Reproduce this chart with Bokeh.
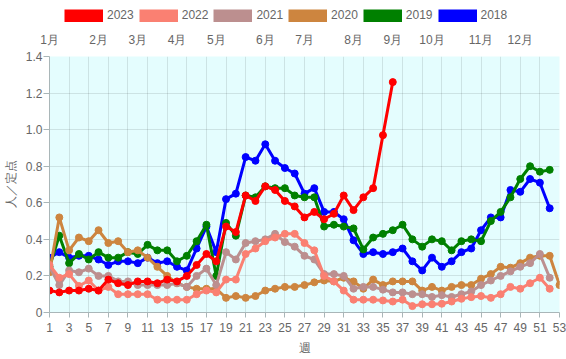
from bokeh.plotting import figure
from bokeh.layouts import column
from bokeh.models import Range1d, FixedTicker, LinearAxis, Legend, LegendItem, ColumnDataSource
from bokeh.embed import file_html
from bokeh.resources import INLINE

weeks = list(range(1, 54))

y2023 = [0.12, 0.11, 0.12, 0.12, 0.13, 0.12, 0.18, 0.16, 0.15, 0.17, 0.17, 0.16, 0.18, 0.17, 0.20,
         0.26, 0.32, 0.28, 0.47, 0.44, 0.64, 0.61, 0.69, 0.67, 0.61, 0.58, 0.52, 0.55, 0.51, 0.54,
         0.64, 0.56, 0.63, 0.68, 0.97, 1.26]
y2022 = [0.26, 0.19, 0.21, 0.145, 0.175, 0.12, 0.14, 0.10, 0.10, 0.10, 0.10, 0.07, 0.07, 0.07, 0.07,
         0.10, 0.12, 0.11, 0.18, 0.18, 0.32, 0.35, 0.39, 0.41, 0.43, 0.43, 0.38, 0.34, 0.20, 0.17,
         0.12, 0.07, 0.07, 0.07, 0.066, 0.06, 0.07, 0.035, 0.045, 0.045, 0.048, 0.06, 0.075, 0.084,
         0.09, 0.08, 0.10, 0.14, 0.13, 0.16, 0.19, 0.13]
y2021 = [0.25, 0.15, 0.23, 0.22, 0.24, 0.20, 0.20, 0.17, 0.17, 0.15, 0.15, 0.15, 0.15, 0.16, 0.14,
         0.20, 0.24, 0.15, 0.33, 0.29, 0.38, 0.39, 0.40, 0.43, 0.385, 0.36, 0.31, 0.29, 0.21, 0.21,
         0.20, 0.13, 0.14, 0.14, 0.125, 0.11, 0.11, 0.10, 0.10, 0.085, 0.095, 0.085, 0.10, 0.115,
         0.15, 0.175, 0.20, 0.225, 0.25, 0.27, 0.32, 0.19]
y2020 = [0.22, 0.52, 0.34, 0.41, 0.39, 0.45, 0.38, 0.39, 0.33, 0.34, 0.30, 0.25, 0.20, 0.16, 0.14,
         0.13, 0.13, 0.13, 0.08, 0.09, 0.08, 0.09, 0.12, 0.13, 0.14, 0.14, 0.15, 0.165, 0.175, 0.17,
         0.19, 0.17, 0.13, 0.18, 0.15, 0.17, 0.17, 0.17, 0.12, 0.14, 0.12, 0.14, 0.15, 0.15, 0.185,
         0.21, 0.25, 0.245, 0.27, 0.30, 0.31, 0.31, 0.15]
y2019 = [0.25, 0.42, 0.27, 0.32, 0.29, 0.33, 0.30, 0.30, 0.33, 0.32, 0.37, 0.34, 0.34, 0.28, 0.31,
         0.39, 0.48, 0.20, 0.49, 0.42, 0.64, 0.63, 0.69, 0.68, 0.68, 0.64, 0.63, 0.63, 0.47, 0.48,
         0.47, 0.46, 0.345, 0.41, 0.43, 0.45, 0.48, 0.40, 0.36, 0.40, 0.39, 0.34, 0.39, 0.40, 0.39,
         0.50, 0.55, 0.63, 0.73, 0.80, 0.77, 0.78]
y2018 = [0.30, 0.33, 0.30, 0.31, 0.31, 0.29, 0.26, 0.28, 0.28, 0.27, 0.30, 0.27, 0.28, 0.25, 0.23,
         0.35, 0.47, 0.33, 0.62, 0.65, 0.85, 0.83, 0.92, 0.83, 0.79, 0.76, 0.65, 0.68, 0.55, 0.55,
         0.51, 0.395, 0.32, 0.33, 0.32, 0.33, 0.35, 0.28, 0.23, 0.30, 0.25, 0.28, 0.33, 0.35, 0.45,
         0.52, 0.52, 0.67, 0.66, 0.73, 0.71, 0.57]

series_names = ["2023", "2022", "2021", "2020", "2019", "2018"]
series_values = [y2023, y2022, y2021, y2020, y2019, y2018]
series_colors = ["#ff0000", "#fa8072", "#bc8f8f", "#cd853f", "#008000", "#0000ff"]

x_ticks = list(range(1, 54, 2))
y_ticks = [0, 0.2, 0.4, 0.6, 0.8, 1.0, 1.2, 1.4]
y_tick_labels = ["0", "0.2", "0.4", "0.6", "0.8", "1.0", "1.2", "1.4"]
month_weeks = [1, 6, 10, 14, 18, 23, 27, 32, 36, 40, 45, 49]
month_labels = ["1月", "2月", "3月", "4月", "5月", "6月", "7月", "8月", "9月", "10月", "11月", "12月"]

FONT = "Liberation Sans"
TXT = "#666666"
AXC = "#a9b6b8"

# ---------- legend strip ----------
lg = figure(width=566, height=28, output_backend="svg", toolbar_location=None,
            x_range=Range1d(1, 53), y_range=Range1d(0, 1.4),
            x_axis_location=None, y_axis_location=None,
            min_border_left=0, min_border_right=0, min_border_top=0, min_border_bottom=0)
lg.outline_line_color = None
lg.xgrid.visible = False
lg.ygrid.visible = False
lg.background_fill_color = "white"
lg.border_fill_color = "white"

items = []
for name, vals, col in zip(series_names, series_values, series_colors):
    # a single-point line draws nothing, but gives the legend a thick bar glyph
    r = lg.line(x=weeks[:1], y=vals[:1], line_color=col, line_width=13)
    items.append(LegendItem(label=name, renderers=[r]))
legend = Legend(items=items, orientation="horizontal", location=(15, 6),
                glyph_width=39, glyph_height=13, label_standoff=4, spacing=5,
                label_height=14, label_width=10, padding=0, margin=0,
                border_line_color=None, background_fill_alpha=0,
                label_text_font=FONT, label_text_font_size="12px", label_text_color=TXT)
lg.add_layout(legend)

# ---------- main chart ----------
p = figure(width=566, height=331, output_backend="svg", toolbar_location=None,
           x_range=Range1d(1, 53), y_range=Range1d(0, 1.4),
           min_border_left=49, min_border_right=7, min_border_top=28, min_border_bottom=47)
p.background_fill_color = "#e4fdfe"
p.border_fill_color = "white"
p.outline_line_color = None

p.xgrid.ticker = FixedTicker(ticks=x_ticks)
p.ygrid.ticker = FixedTicker(ticks=y_ticks)
for g in (p.xgrid, p.ygrid):
    g.grid_line_color = "#000000"
    g.grid_line_alpha = 0.1

xa = p.xaxis[0]
xa.ticker = FixedTicker(ticks=x_ticks)
xa.axis_label = "週"
xa.axis_label_standoff = 6
xa.major_label_standoff = 5
xa.major_tick_out = 5
xa.major_tick_in = 0

ya = p.yaxis[0]
ya.ticker = FixedTicker(ticks=y_ticks)
ya.major_label_overrides = {t: l for t, l in zip(y_ticks, y_tick_labels)}
ya.axis_label = "人／定点"
ya.axis_label_standoff = 5
ya.major_label_standoff = 1
ya.major_tick_out = 6
ya.major_tick_in = 0

for ax in (xa, ya):
    ax.minor_tick_line_color = None
    ax.axis_line_color = AXC
    ax.major_tick_line_color = AXC
    ax.major_label_text_font = FONT
    ax.major_label_text_font_size = "12px"
    ax.major_label_text_color = TXT
    ax.axis_label_text_font = FONT
    ax.axis_label_text_font_size = "12px"
    ax.axis_label_text_font_style = "normal"
    ax.axis_label_text_color = TXT

ma = LinearAxis(ticker=FixedTicker(ticks=month_weeks),
                major_label_overrides={w: m for w, m in zip(month_weeks, month_labels)})
ma.axis_line_color = None
ma.major_tick_line_color = None
ma.minor_tick_line_color = None
ma.major_tick_out = 0
ma.major_tick_in = 0
ma.major_label_standoff = 10
ma.major_label_text_font = FONT
ma.major_label_text_font_size = "12px"
ma.major_label_text_color = TXT
p.add_layout(ma, "above")

# draw 2018 first so 2023 ends on top
for name, vals, col in reversed(list(zip(series_names, series_values, series_colors))):
    src = ColumnDataSource(dict(x=weeks[:len(vals)], y=vals))
    p.line("x", "y", source=src, line_color=col, line_width=3)
    p.scatter("x", "y", source=src, size=7, fill_color=col, line_color=col)

layout = column(lg, p, spacing=0)
open("out.html", "w").write(file_html(layout, INLINE))
